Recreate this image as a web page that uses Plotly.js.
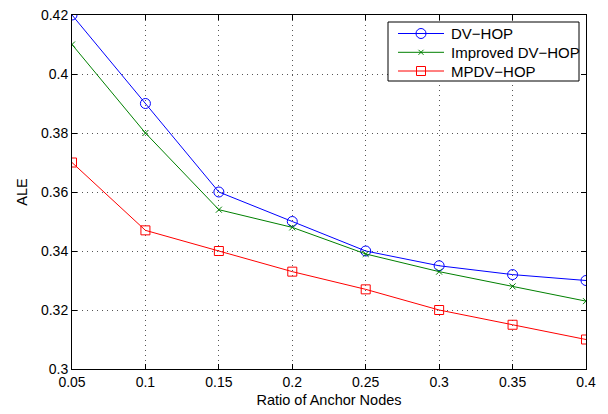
<!DOCTYPE html>
<html><head><meta charset="utf-8">
<script src="https://cdn.plot.ly/plotly-3.0.1.min.js"></script>
<style>html,body{margin:0;padding:0;background:#fff}#chart{width:608px;height:414px}</style>
</head><body><div id="chart"></div>
<script>
const ratios = [0.05, 0.1, 0.15, 0.2, 0.25, 0.3, 0.35, 0.4];
const dvHop = [0.42, 0.39, 0.36, 0.35, 0.34, 0.335, 0.332, 0.330];
const improvedDvHop = [0.41, 0.38, 0.354, 0.348, 0.339, 0.333, 0.328, 0.323];
const mpdvHop = [0.37, 0.347, 0.34, 0.333, 0.327, 0.32, 0.315, 0.31];
const seriesNames = ['DV\u2212HOP', 'Improved DV\u2212HOP', 'MPDV\u2212HOP'];
const xTicks = [0.05, 0.1, 0.15, 0.2, 0.25, 0.3, 0.35, 0.4];
const xTickText = ['0.05', '0.1', '0.15', '0.2', '0.25', '0.3', '0.35', '0.4'];
const yTicks = [0.3, 0.32, 0.34, 0.36, 0.38, 0.4, 0.42];
const yTickText = ['0.3', '0.32', '0.34', '0.36', '0.38', '0.4', '0.42'];

const colors = ['#0000ff', '#008000', '#ff0000'];
const traces = [
  {x: ratios, y: dvHop, name: seriesNames[0], mode: 'lines+markers',
   line: {color: colors[0], width: 1}, marker: {symbol: 'circle-open', size: 10, color: colors[0], line: {width: 1}}},
  {x: ratios, y: improvedDvHop, name: seriesNames[1], mode: 'lines+markers',
   line: {color: colors[1], width: 1}, marker: {symbol: 'x-thin-open', size: 6, color: colors[1], line: {width: 1, color: colors[1]}}},
  {x: ratios, y: mpdvHop, name: seriesNames[2], mode: 'lines+markers',
   line: {color: colors[2], width: 1}, marker: {symbol: 'square-open', size: 9, color: colors[2], line: {width: 1}}}
];

// Plot-area geometry (pixels) used to place a MATLAB-style legend box
const W = 608, H = 414, ML = 72, MR = 22, MT = 15, MB = 45;
const PW = W - ML - MR, PH = H - MT - MB;
const px = v => (v - ML) / PW;
const py = v => (H - MB - v) / PH;

const shapes = [];
const annotations = [];
shapes.push({type: 'rect', xref: 'paper', yref: 'paper', layer: 'above',
  x0: px(388), x1: px(579), y0: py(22), y1: py(81),
  line: {color: '#000', width: 1}, fillcolor: '#fff'});
const rows = [33.5, 52.3, 71];
const fam = 'Liberation Sans, Arial, sans-serif';
seriesNames.forEach((name, i) => {
  const r = rows[i], c = colors[i];
  shapes.push({type: 'line', xref: 'paper', yref: 'paper', layer: 'above',
    x0: px(398), x1: px(444), y0: py(r), y1: py(r), line: {color: c, width: 1}});
  if (i === 0) {
    shapes.push({type: 'circle', xref: 'paper', yref: 'paper', layer: 'above',
      x0: px(416), x1: px(426), y0: py(r - 5), y1: py(r + 5), line: {color: c, width: 1}, fillcolor: 'rgba(0,0,0,0)'});
  } else if (i === 1) {
    shapes.push({type: 'line', xref: 'paper', yref: 'paper', layer: 'above',
      x0: px(418.5), x1: px(423.5), y0: py(r - 2.5), y1: py(r + 2.5), line: {color: c, width: 1}});
    shapes.push({type: 'line', xref: 'paper', yref: 'paper', layer: 'above',
      x0: px(418.5), x1: px(423.5), y0: py(r + 2.5), y1: py(r - 2.5), line: {color: c, width: 1}});
  } else {
    shapes.push({type: 'rect', xref: 'paper', yref: 'paper', layer: 'above',
      x0: px(416.5), x1: px(425.5), y0: py(r - 4.5), y1: py(r + 4.5), line: {color: c, width: 1}, fillcolor: 'rgba(0,0,0,0)'});
  }
  annotations.push({text: name, xref: 'paper', yref: 'paper', x: px(449), y: py(r),
    xanchor: 'left', yanchor: 'middle', showarrow: false,
    font: {family: fam, size: 15, color: '#000'}});
});

const tickFont = {family: fam, size: 14, color: '#000'};
const titleFont = {family: fam, size: 14.5, color: '#000'};
const layout = {
  width: W, height: H,
  margin: {l: ML, r: MR, t: MT, b: MB},
  paper_bgcolor: '#fff', plot_bgcolor: '#fff',
  font: tickFont,
  showlegend: false,
  shapes: shapes,
  annotations: annotations,
  xaxis: {range: [0.05, 0.4], tickvals: xTicks, ticktext: xTickText, tickfont: tickFont,
    showline: true, linecolor: '#000', linewidth: 1, mirror: 'ticks',
    ticks: 'inside', ticklen: 5, tickcolor: '#000',
    showgrid: true, gridcolor: '#555', griddash: '1px,4px', gridwidth: 1, zeroline: false,
    title: {text: 'Ratio of Anchor Nodes', font: titleFont, standoff: 6}},
  yaxis: {range: [0.3, 0.42], tickvals: yTicks, ticktext: yTickText, tickfont: tickFont,
    showline: true, linecolor: '#000', linewidth: 1, mirror: 'ticks',
    ticks: 'inside', ticklen: 5, tickcolor: '#000',
    showgrid: true, gridcolor: '#555', griddash: '1px,4px', gridwidth: 1, zeroline: false,
    title: {text: 'ALE', font: titleFont, standoff: 9}}
};
Plotly.newPlot('chart', traces, layout, {staticPlot: true});
</script></body></html>
